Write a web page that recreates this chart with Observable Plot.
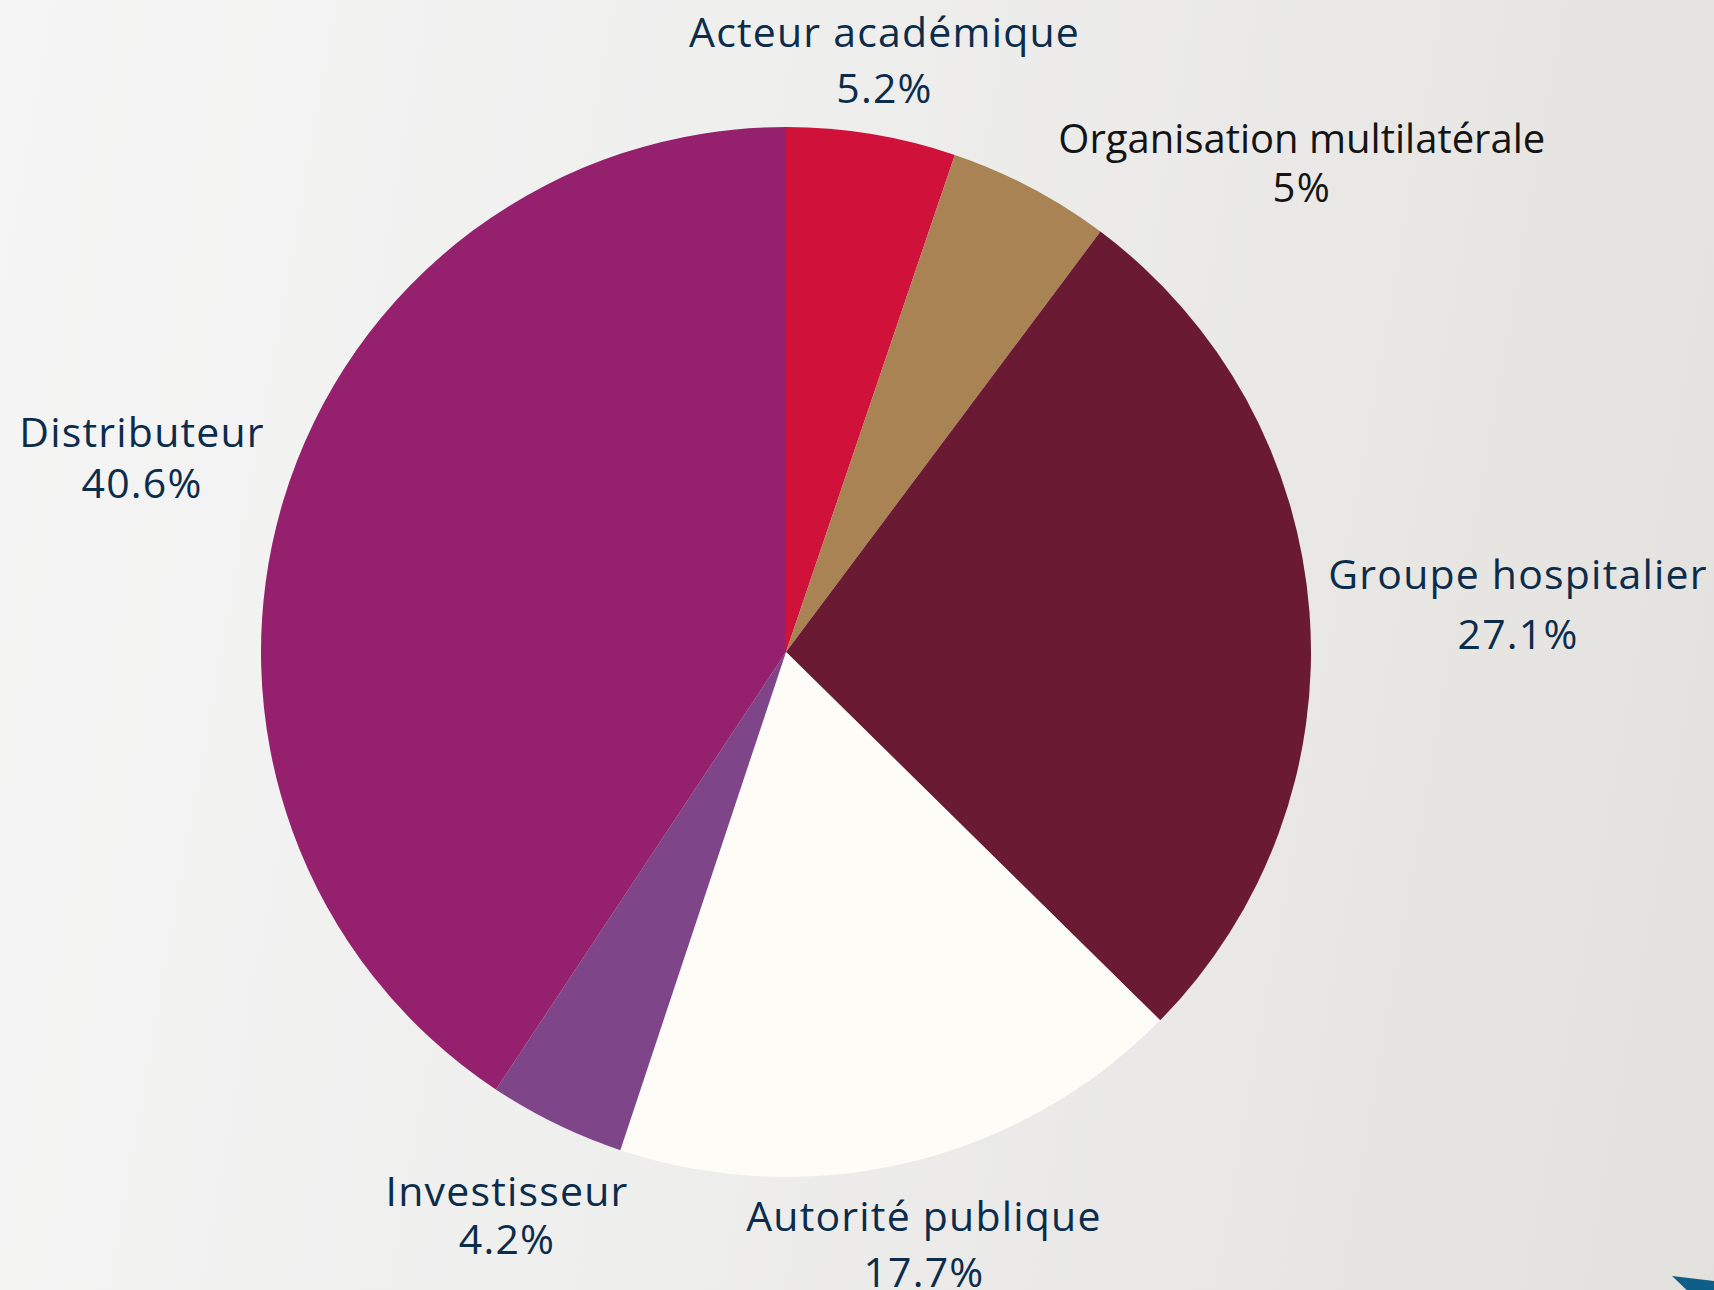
<!DOCTYPE html>
<html><head><meta charset="utf-8">
<script src="https://cdn.jsdelivr.net/npm/d3@7"></script>
<script src="https://cdn.jsdelivr.net/npm/@observablehq/plot@0.6"></script>
<style>
html,body{margin:0;padding:0;width:1714px;height:1290px;overflow:hidden;}
body{background:linear-gradient(100deg,#f5f5f5 0%,#eeeeed 45%,#e3e1dd 100%);font-family:"Open Sans",sans-serif;position:relative;}
#chart svg{display:block;}
#chart text{letter-spacing:1.2px;}
#chart text.tight{letter-spacing:0px;}
#corner{position:absolute;left:1672px;top:1276px;width:42px;height:14px;background:#0e5f88;clip-path:polygon(0 0,100% 35%,100% 100%,35% 100%);}
</style></head><body><div id="chart"></div><div id="corner"></div>
<script>
const categories = ["Acteur académique","Organisation multilatérale","Groupe hospitalier","Autorité publique","Investisseur","Distributeur"];
const shares = [5.2, 5, 27.1, 17.7, 4.2, 40.6];
const shareLabels = ["5.2%", "5%", "27.1%", "17.7%", "4.2%", "40.6%"];
const colors = ["#d0113a", "#a98354", "#6a1a33", "#fdfcf7", "#7e4589", "#95216e"];

// layout (label placement and styling)
const W = 1714, H = 1290, CX = 786, CY = 652, R = 525;
const labelLayout = [
  {da: 0.04, r: 599, gap: 56, fs: 41, ink: "#0c2c4c"},
  {da: 18.8, r: 709.5, gap: 48.4, fs: 40, ink: "#141414"},
  {da: 0.68, r: 733, gap: 60, fs: 41, ink: "#0c2c4c"},
  {da: 0.48, r: 608.7, gap: 56, fs: 41, ink: "#0c2c4c"},
  {da: 0.38, r: 629.6, gap: 48.3, fs: 41, ink: "#0c2c4c"},
  {da: -0.08, r: 672.8, gap: 50.3, fs: 41, ink: "#0c2c4c"}
];

const rows = categories.map((c, i) => ({category: c, share: shares[i], label: shareLabels[i], color: colors[i]}));
const arcs = d3.pie().sort(null).value(d => d.share)(rows);
const anchors = arcs.map((a, i) => {
  const L = labelLayout[i];
  const ang = (a.startAngle + a.endAngle) / 2 + L.da * Math.PI / 180;
  return {
    name: a.data.category, pct: a.data.label,
    x: CX + L.r * Math.sin(ang),
    y: CY - L.r * Math.cos(ang),
    gap: L.gap, fs: L.fs, ink: L.ink
  };
});
const nameLabels = anchors.map(d => ({text: d.name, x: d.x, y: d.y - d.gap / 2, fs: d.fs, ink: d.ink}));
const pctLabels = anchors.map(d => ({text: d.pct, x: d.x, y: d.y + d.gap / 2, fs: d.fs, ink: d.ink}));

function pieMark(index, scales) {
  const cx = scales.x(CX), cy = scales.y(CY);
  const rr = scales.x(CX + R) - cx;
  const arc = d3.arc().innerRadius(0).outerRadius(rr);
  const g = d3.create("svg:g").attr("transform", `translate(${cx},${cy})`);
  g.selectAll("path").data(arcs).join("path")
    .attr("d", arc)
    .attr("fill", d => d.data.color);
  return g.node();
}

const textOpts = {
  x: "x", y: "y", text: "text",
  fontSize: "fs", fill: "ink",
  textAnchor: "middle", lineAnchor: "middle",
  fontFamily: "Open Sans"
};

const chart = Plot.plot({
  width: W, height: H,
  margin: 0,
  style: {background: "transparent", overflow: "visible"},
  x: {domain: [0, W], range: [0, W], axis: null},
  y: {domain: [0, H], range: [0, H], axis: null},
  color: {type: "identity"},
  marks: [
    pieMark,
    Plot.text(nameLabels, textOpts),
    Plot.text(pctLabels, textOpts)
  ]
});
d3.select(chart).selectAll("text")
  .filter(function() { return this.textContent === "Organisation multilatérale"; })
  .classed("tight", true);
document.getElementById("chart").appendChild(chart);
</script>
</body></html>
